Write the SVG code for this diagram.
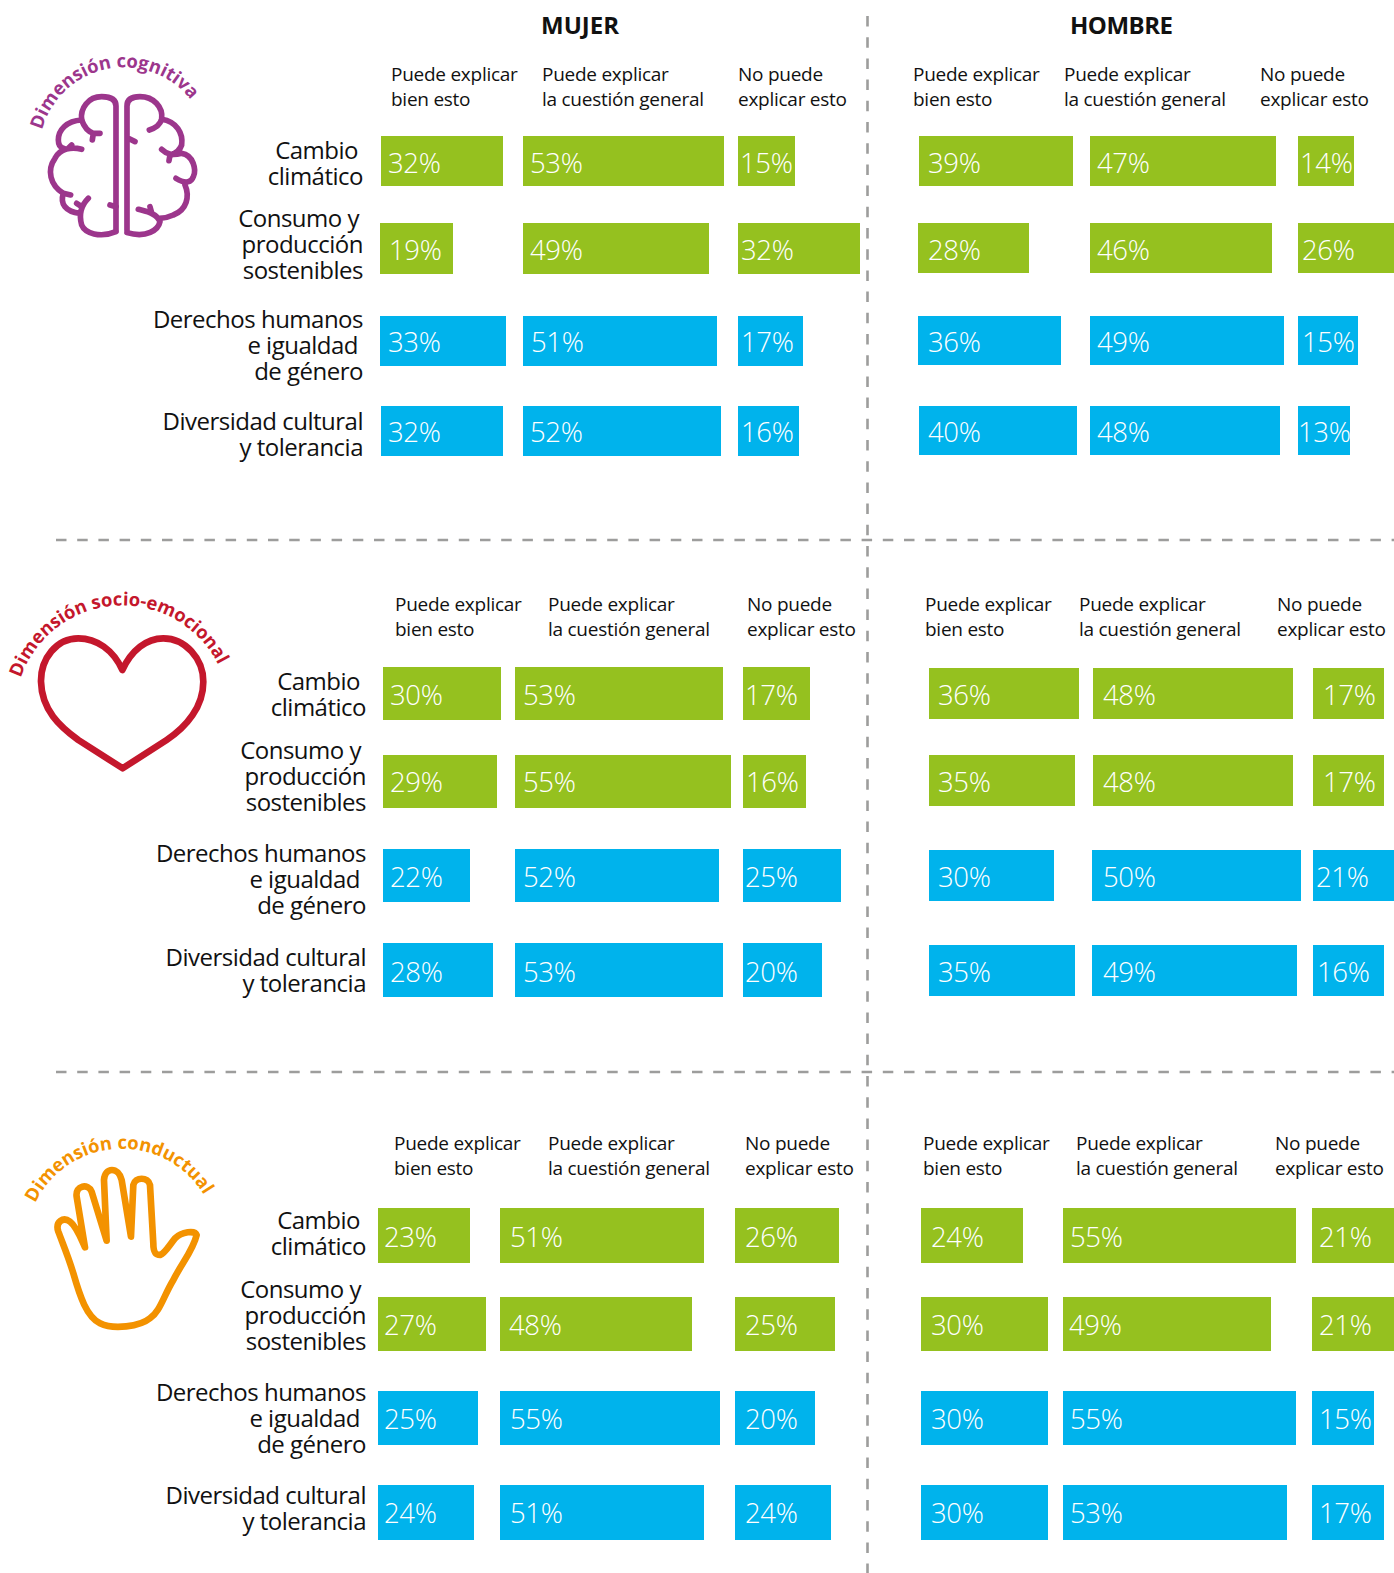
<svg xmlns="http://www.w3.org/2000/svg" width="1394" height="1573" viewBox="0 0 1394 1573">
<style>
text{font-family:"Open Sans","Noto Sans","Liberation Sans",sans-serif;fill:#111}
.g{fill:#95C11F}.b{fill:#00B3EC}
.p{font-size:27.5px;font-weight:300;fill:#fff;letter-spacing:-.35px}
.h{font-size:19px;letter-spacing:-.26px}
.r{font-size:24px;text-anchor:end;letter-spacing:-.5px}
.t{font-size:24px;font-weight:700}
.c{font-size:18.4px;font-weight:700}
.d{stroke:#9D9D9C;stroke-width:2.6;stroke-dasharray:10.5 10.7;fill:none}
.i{fill:none;stroke-linecap:round;stroke-linejoin:round}
</style>
<defs>
<path id="a1" d="M42 130A85 85 0 0 1 207 134"/>
<path id="a2" d="M20 680A107.5 107.5 0 0 1 229 700"/>
<path id="a3" d="M34 1206A96 96 0 0 1 216 1226"/>
</defs>
<g id="connectors">
<path class="d" d="M867.5 16V1573"/>
<path class="d" d="M56 540H1394"/>
<path class="d" d="M56 1072H1394"/>
</g>
<g id="titles">
<text class="t" x="541" y="34">MUJER</text>
<text class="t" x="1070" y="34" style="letter-spacing:-.5px">HOMBRE</text>
</g>
<g id="icon-cognitiva">
<g class="i" transform="translate(0 30) scale(.3333)" stroke="#9C368C" stroke-width="17">
<path d="M348 600V228Q348 200 305 200C265 200 240 235 245 270C252 290 265 305 280 310M300 310H278M277 330L280 310"/>
<path d="M245 270C200 272 175 300 175 330C175 345 180 352 190 355M245 358C215 350 180 355 165 385C140 420 150 465 190 490L212 495M215 345L205 355"/>
<path d="M190 490C180 520 195 545 240 550M265 505C245 525 235 550 245 585C255 610 300 625 348 605M230 520L245 530M330 525L348 530"/>
<path d="M381 600V228Q381 200 420 200C460 200 490 230 485 268C480 285 465 295 448 300M385 325L405 335"/>
<path d="M485 268C530 275 550 310 545 345C540 360 530 368 515 375M485 358C500 372 515 378 545 370C580 375 590 420 580 440C575 455 560 465 528 445M510 375L507 392"/>
<path d="M555 465C570 500 560 540 520 555C505 562 490 565 478 565M415 538C440 545 470 550 480 575C475 600 440 625 381 608M450 530L455 548"/>
</g>
<text class="c" style="fill:#9C368C"><textPath href="#a1">Dimensión cognitiva</textPath></text>
</g>
<g id="icon-socioemocional">
<path class="i" transform="translate(0 570) scale(.3333)" stroke="#C4172C" stroke-width="20" d="M367 300C340 240 290 205 235 205C170 205 122 265 123 335C125 420 180 470 235 510L368 595L500 510C560 470 610 410 610 335C610 265 555 205 490 205C440 205 395 240 367 300Z"/>
<text class="c" style="fill:#C4172C"><textPath href="#a2" startOffset="2">Dimensión socio-emocional</textPath></text>
</g>
<g id="icon-conductual">
<path class="i" transform="translate(0 1110) scale(.3333)" stroke="#F39200" stroke-width="20" d="M255 412C245 390 230 350 210 335C190 320 165 335 175 365C190 405 205 440 220 490C240 560 260 620 300 640C340 660 420 650 450 625C480 605 490 560 520 510C545 460 580 420 590 375C585 360 545 365 525 385C505 410 495 430 480 435C465 435 460 425 460 400L450 225C445 200 405 200 400 225L393 380L365 210C355 170 315 170 312 210L320 392L275 245C265 220 225 225 230 260Z"/>
<text class="c" style="fill:#F39200"><textPath href="#a3" startOffset="3">Dimensión conductual</textPath></text>
</g>
<g id="headers">
<text class="h"><tspan x="391" y="81">Puede explicar</tspan><tspan x="391" y="106">bien esto</tspan></text>
<text class="h"><tspan x="542" y="81">Puede explicar</tspan><tspan x="542" y="106">la cuestión general</tspan></text>
<text class="h"><tspan x="738" y="81">No puede</tspan><tspan x="738" y="106">explicar esto</tspan></text>
<text class="h"><tspan x="913" y="81">Puede explicar</tspan><tspan x="913" y="106">bien esto</tspan></text>
<text class="h"><tspan x="1064" y="81">Puede explicar</tspan><tspan x="1064" y="106">la cuestión general</tspan></text>
<text class="h"><tspan x="1260" y="81">No puede</tspan><tspan x="1260" y="106">explicar esto</tspan></text>
<text class="h"><tspan x="395" y="611">Puede explicar</tspan><tspan x="395" y="636">bien esto</tspan></text>
<text class="h"><tspan x="548" y="611">Puede explicar</tspan><tspan x="548" y="636">la cuestión general</tspan></text>
<text class="h"><tspan x="747" y="611">No puede</tspan><tspan x="747" y="636">explicar esto</tspan></text>
<text class="h"><tspan x="925" y="611">Puede explicar</tspan><tspan x="925" y="636">bien esto</tspan></text>
<text class="h"><tspan x="1079" y="611">Puede explicar</tspan><tspan x="1079" y="636">la cuestión general</tspan></text>
<text class="h"><tspan x="1277" y="611">No puede</tspan><tspan x="1277" y="636">explicar esto</tspan></text>
<text class="h"><tspan x="394" y="1150">Puede explicar</tspan><tspan x="394" y="1175">bien esto</tspan></text>
<text class="h"><tspan x="548" y="1150">Puede explicar</tspan><tspan x="548" y="1175">la cuestión general</tspan></text>
<text class="h"><tspan x="745" y="1150">No puede</tspan><tspan x="745" y="1175">explicar esto</tspan></text>
<text class="h"><tspan x="923" y="1150">Puede explicar</tspan><tspan x="923" y="1175">bien esto</tspan></text>
<text class="h"><tspan x="1076" y="1150">Puede explicar</tspan><tspan x="1076" y="1175">la cuestión general</tspan></text>
<text class="h"><tspan x="1275" y="1150">No puede</tspan><tspan x="1275" y="1175">explicar esto</tspan></text>
</g>
<g id="row-labels">
<text class="r"><tspan x="358" y="159">Cambio</tspan><tspan x="363" y="185">climático</tspan></text>
<text class="r"><tspan x="359" y="227">Consumo y</tspan><tspan x="363" y="253">producción</tspan><tspan x="363" y="279">sostenibles</tspan></text>
<text class="r"><tspan x="363" y="328">Derechos humanos</tspan><tspan x="358" y="354">e igualdad</tspan><tspan x="363" y="380">de género</tspan></text>
<text class="r"><tspan x="363" y="430">Diversidad cultural</tspan><tspan x="363" y="456">y tolerancia</tspan></text>
<text class="r"><tspan x="360" y="690">Cambio</tspan><tspan x="366" y="716">climático</tspan></text>
<text class="r"><tspan x="361" y="759">Consumo y</tspan><tspan x="366" y="785">producción</tspan><tspan x="366" y="811">sostenibles</tspan></text>
<text class="r"><tspan x="366" y="862">Derechos humanos</tspan><tspan x="360" y="888">e igualdad</tspan><tspan x="366" y="914">de género</tspan></text>
<text class="r"><tspan x="366" y="966">Diversidad cultural</tspan><tspan x="366" y="992">y tolerancia</tspan></text>
<text class="r"><tspan x="360" y="1229">Cambio</tspan><tspan x="366" y="1255">climático</tspan></text>
<text class="r"><tspan x="361" y="1298">Consumo y</tspan><tspan x="366" y="1324">producción</tspan><tspan x="366" y="1350">sostenibles</tspan></text>
<text class="r"><tspan x="366" y="1401">Derechos humanos</tspan><tspan x="360" y="1427">e igualdad</tspan><tspan x="366" y="1453">de género</tspan></text>
<text class="r"><tspan x="366" y="1504">Diversidad cultural</tspan><tspan x="366" y="1530">y tolerancia</tspan></text>
</g>
<g id="bars-cognitiva">
<rect class="g" x="381" y="136" width="122" height="50"/><rect class="g" x="523" y="136" width="201" height="50"/><rect class="g" x="738" y="136" width="57" height="50"/>
<rect class="g" x="380" y="223" width="73" height="51"/><rect class="g" x="523" y="223" width="186" height="51"/><rect class="g" x="738" y="223" width="122" height="51"/>
<rect class="b" x="380" y="316" width="126" height="50"/><rect class="b" x="523" y="316" width="194" height="50"/><rect class="b" x="738" y="316" width="65" height="50"/>
<rect class="b" x="381" y="406" width="122" height="50"/><rect class="b" x="523" y="406" width="198" height="50"/><rect class="b" x="738" y="406" width="61" height="50"/>
<rect class="g" x="919" y="136" width="154" height="50"/><rect class="g" x="1090" y="136" width="186" height="50"/><rect class="g" x="1298" y="136" width="56" height="50"/>
<rect class="g" x="918" y="223" width="111" height="50"/><rect class="g" x="1090" y="223" width="182" height="50"/><rect class="g" x="1298" y="223" width="96" height="50"/>
<rect class="b" x="918" y="316" width="143" height="49"/><rect class="b" x="1090" y="316" width="194" height="49"/><rect class="b" x="1298" y="316" width="60" height="49"/>
<rect class="b" x="919" y="406" width="158" height="49"/><rect class="b" x="1090" y="406" width="190" height="49"/><rect class="b" x="1298" y="406" width="52" height="49"/>
<text class="p" x="388" y="173">32%</text><text class="p" x="530" y="173">53%</text><text class="p" x="740" y="173">15%</text>
<text class="p" x="389" y="260">19%</text><text class="p" x="530" y="260">49%</text><text class="p" x="741" y="260">32%</text>
<text class="p" x="388" y="352">33%</text><text class="p" x="531" y="352">51%</text><text class="p" x="741" y="352">17%</text>
<text class="p" x="388" y="442">32%</text><text class="p" x="530" y="442">52%</text><text class="p" x="741" y="442">16%</text>
<text class="p" x="928" y="173">39%</text><text class="p" x="1097" y="173">47%</text><text class="p" x="1300" y="173">14%</text>
<text class="p" x="928" y="260">28%</text><text class="p" x="1097" y="260">46%</text><text class="p" x="1302" y="260">26%</text>
<text class="p" x="928" y="352">36%</text><text class="p" x="1097" y="352">49%</text><text class="p" x="1302" y="352">15%</text>
<text class="p" x="928" y="442">40%</text><text class="p" x="1097" y="442">48%</text><text class="p" x="1298" y="442">13%</text>
</g>
<g id="bars-socioemocional">
<rect class="g" x="383" y="667" width="118" height="53"/><rect class="g" x="515" y="667" width="208" height="53"/><rect class="g" x="743" y="667" width="67" height="53"/>
<rect class="g" x="383" y="755" width="114" height="53"/><rect class="g" x="515" y="755" width="216" height="53"/><rect class="g" x="743" y="755" width="63" height="53"/>
<rect class="b" x="383" y="849" width="87" height="53"/><rect class="b" x="515" y="849" width="204" height="53"/><rect class="b" x="743" y="849" width="98" height="53"/>
<rect class="b" x="383" y="943" width="110" height="54"/><rect class="b" x="515" y="943" width="208" height="54"/><rect class="b" x="743" y="943" width="79" height="54"/>
<rect class="g" x="929" y="668" width="150" height="51"/><rect class="g" x="1093" y="668" width="200" height="51"/><rect class="g" x="1313" y="668" width="71" height="51"/>
<rect class="g" x="929" y="755" width="146" height="51"/><rect class="g" x="1093" y="755" width="200" height="51"/><rect class="g" x="1313" y="755" width="71" height="51"/>
<rect class="b" x="929" y="850" width="125" height="51"/><rect class="b" x="1092" y="850" width="209" height="51"/><rect class="b" x="1313" y="850" width="81" height="51"/>
<rect class="b" x="929" y="945" width="146" height="51"/><rect class="b" x="1092" y="945" width="205" height="51"/><rect class="b" x="1313" y="945" width="71" height="51"/>
<text class="p" x="390" y="705">30%</text><text class="p" x="523" y="705">53%</text><text class="p" x="745" y="705">17%</text>
<text class="p" x="390" y="792">29%</text><text class="p" x="523" y="792">55%</text><text class="p" x="746" y="792">16%</text>
<text class="p" x="390" y="887">22%</text><text class="p" x="523" y="887">52%</text><text class="p" x="745" y="887">25%</text>
<text class="p" x="390" y="982">28%</text><text class="p" x="523" y="982">53%</text><text class="p" x="745" y="982">20%</text>
<text class="p" x="938" y="705">36%</text><text class="p" x="1103" y="705">48%</text><text class="p" x="1323" y="705">17%</text>
<text class="p" x="938" y="792">35%</text><text class="p" x="1103" y="792">48%</text><text class="p" x="1323" y="792">17%</text>
<text class="p" x="938" y="887">30%</text><text class="p" x="1103" y="887">50%</text><text class="p" x="1316" y="887">21%</text>
<text class="p" x="938" y="982">35%</text><text class="p" x="1103" y="982">49%</text><text class="p" x="1317" y="982">16%</text>
</g>
<g id="bars-conductual">
<rect class="g" x="378" y="1208" width="92" height="55"/><rect class="g" x="500" y="1208" width="204" height="55"/><rect class="g" x="735" y="1208" width="104" height="55"/>
<rect class="g" x="378" y="1297" width="108" height="54"/><rect class="g" x="500" y="1297" width="192" height="54"/><rect class="g" x="735" y="1297" width="100" height="54"/>
<rect class="b" x="378" y="1391" width="100" height="54"/><rect class="b" x="500" y="1391" width="220" height="54"/><rect class="b" x="735" y="1391" width="80" height="54"/>
<rect class="b" x="378" y="1485" width="96" height="55"/><rect class="b" x="500" y="1485" width="204" height="55"/><rect class="b" x="735" y="1485" width="96" height="55"/>
<rect class="g" x="921" y="1208" width="102" height="55"/><rect class="g" x="1063" y="1208" width="233" height="55"/><rect class="g" x="1312" y="1208" width="82" height="55"/>
<rect class="g" x="921" y="1297" width="127" height="54"/><rect class="g" x="1063" y="1297" width="208" height="54"/><rect class="g" x="1312" y="1297" width="82" height="54"/>
<rect class="b" x="921" y="1391" width="127" height="54"/><rect class="b" x="1063" y="1391" width="233" height="54"/><rect class="b" x="1312" y="1391" width="62" height="54"/>
<rect class="b" x="921" y="1485" width="127" height="55"/><rect class="b" x="1063" y="1485" width="224" height="55"/><rect class="b" x="1312" y="1485" width="72" height="55"/>
<text class="p" x="384" y="1247">23%</text><text class="p" x="510" y="1247">51%</text><text class="p" x="745" y="1247">26%</text>
<text class="p" x="384" y="1335">27%</text><text class="p" x="509" y="1335">48%</text><text class="p" x="745" y="1335">25%</text>
<text class="p" x="384" y="1429">25%</text><text class="p" x="510" y="1429">55%</text><text class="p" x="745" y="1429">20%</text>
<text class="p" x="384" y="1523">24%</text><text class="p" x="510" y="1523">51%</text><text class="p" x="745" y="1523">24%</text>
<text class="p" x="931" y="1247">24%</text><text class="p" x="1070" y="1247">55%</text><text class="p" x="1319" y="1247">21%</text>
<text class="p" x="931" y="1335">30%</text><text class="p" x="1069" y="1335">49%</text><text class="p" x="1319" y="1335">21%</text>
<text class="p" x="931" y="1429">30%</text><text class="p" x="1070" y="1429">55%</text><text class="p" x="1319" y="1429">15%</text>
<text class="p" x="931" y="1523">30%</text><text class="p" x="1070" y="1523">53%</text><text class="p" x="1319" y="1523">17%</text>
</g>
</svg>
